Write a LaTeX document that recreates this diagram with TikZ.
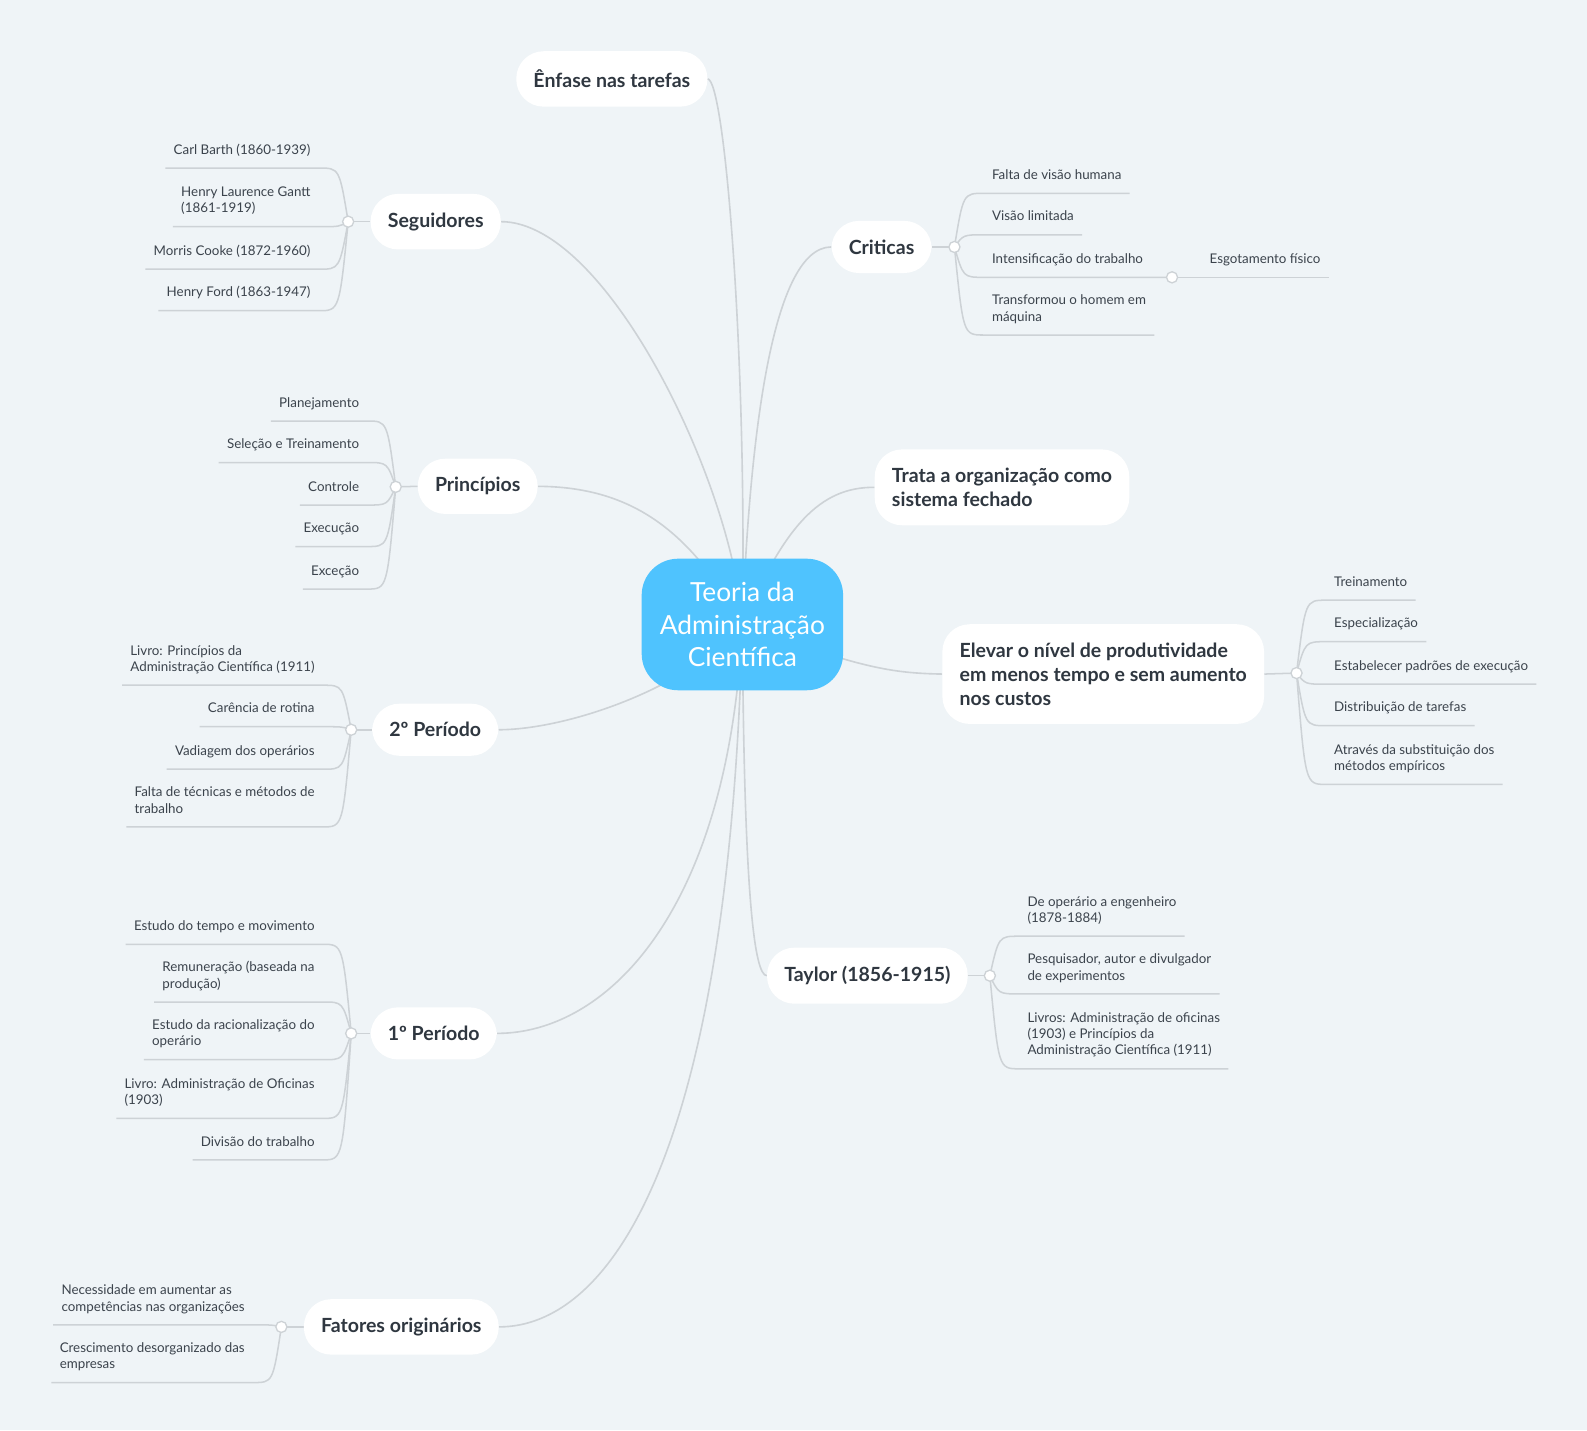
\documentclass[tikz,border=0pt]{standalone}
\usepackage{fontspec}
\setmainfont{Lato}
\usetikzlibrary{calc}
\definecolor{bgcol}{HTML}{EFF4F7}
\definecolor{linecol}{HTML}{CDD2D6}
\definecolor{centercol}{HTML}{4FC3FE}
\definecolor{topiccol}{HTML}{2F3740}
\definecolor{leafcol}{HTML}{3B434C}
\pgfdeclarelayer{bg}
\pgfdeclarelayer{lines}
\pgfsetlayers{bg,lines,main}
\tikzset{branch/.style={to path={.. controls ($(\tikztostart |- \tikztotarget)!0.3!(\tikztotarget)$) .. (\tikztotarget)}}}

\begin{document}
\begin{tikzpicture}[x=1pt,y=1pt,
    center node/.style={rounded corners=36pt,fill=centercol,text=white,align=center,
      minimum width=199pt,minimum height=130pt,font=\fontsize{26}{32}\selectfont},
    topic/.style={rounded corners=27pt,fill=white,text=topiccol,align=left,
      inner xsep=17pt,inner ysep=18.5pt,font=\fontsize{19.3}{23.5}\selectfont\bfseries},
    leaf/.style={text=leafcol,align=left,inner xsep=8pt,inner ysep=8.7pt,
      execute at end node={\strut},font=\fontsize{13.2}{16}\selectfont},
    joint/.style={circle,draw=linecol,line width=1.3pt,fill=white,minimum size=11pt,inner sep=0pt},
    mainline/.style={draw=linecol,line width=1.6pt},
    leafline/.style={draw=linecol,line width=1.5pt}]
\begin{pgfonlayer}{bg}
\fill[bgcol] (0,0) rectangle (1568,-1413);
\end{pgfonlayer}
\useasboundingbox (0,0) rectangle (1568,-1413);

% centre and main topics
\node[center node] (cn) at (733.5,-617) {Teoria da\\Administração\\Científica};
\node[topic] (enf) at (604.5,-78) {Ênfase nas tarefas};
\node[topic] (seg) at (430.5,-219) {Seguidores};
\node[topic] (crit) at (871,-244) {Criticas};
\node[topic] (prin) at (472,-480.5) {Princípios};
\node[topic] (trata) at (990,-481.5) {Trata a organização como\\sistema fechado};
\node[topic] (elev) at (1090,-666) {Elevar o nível de produtividade\\em menos tempo e sem aumento\\nos custos};
\node[topic] (per2) at (430,-721) {2º Período};
\node[topic] (tay) at (857,-964) {Taylor (1856-1915)};
\node[topic] (per1) at (428.5,-1021) {1º Período};
\node[topic] (fat) at (396.5,-1311) {Fatores originários};

% joints
\node[joint] (jseg) at (344,-219) {};
\node[joint] (jcrit) at (943,-244) {};
\node[joint] (jint) at (1158,-274) {};
\node[joint] (jprin) at (391,-481) {};
\node[joint] (jelev) at (1281,-665) {};
\node[joint] (jper2) at (347,-721) {};
\node[joint] (jtay) at (978,-964) {};
\node[joint] (jper1) at (347,-1021) {};
\node[joint] (jfat) at (278,-1311) {};

% Seguidores
\node[leaf,anchor=south east] (s1) at (315,-166) {Carl Barth (1860-1939)};
\node[leaf,anchor=south east] (s2) at (315,-224) {Henry Laurence Gantt\\(1861-1919)};
\node[leaf,anchor=south east] (s3) at (315,-266) {Morris Cooke (1872-1960)};
\node[leaf,anchor=south east] (s4) at (315,-307) {Henry Ford (1863-1947)};

% Criticas
\node[leaf,anchor=south west] (c1) at (972,-191) {Falta de visão humana};
\node[leaf,anchor=south west] (c2) at (972,-232) {Visão limitada};
\node[leaf,anchor=south west] (c3) at (972,-274) {Intensificação do trabalho};
\node[leaf,anchor=south west] (c4) at (972,-331) {Transformou o homem em\\máquina};
\node[leaf,anchor=south west] (c5) at (1187,-274) {Esgotamento físico};

% Principios
\node[leaf,anchor=south east] (p1) at (363,-416) {Planejamento};
\node[leaf,anchor=south east] (p2) at (363,-457) {Seleção e Treinamento};
\node[leaf,anchor=south east] (p3) at (363,-499) {Controle};
\node[leaf,anchor=south east] (p4) at (363,-540) {Execução};
\node[leaf,anchor=south east] (p5) at (363,-582) {Exceção};

% Elevar
\node[leaf,anchor=south west] (e1) at (1310,-593) {Treinamento};
\node[leaf,anchor=south west] (e2) at (1310,-634) {Especialização};
\node[leaf,anchor=south west] (e3) at (1310,-676) {Estabelecer padrões de execução};
\node[leaf,anchor=south west] (e4) at (1310,-717) {Distribuição de tarefas};
\node[leaf,anchor=south west] (e5) at (1310,-775) {Através da substituição dos\\métodos empíricos};

% 2o periodo
\node[leaf,anchor=south east] (q1) at (319,-677) {Livro: Princípios da\\Administração Científica (1911)};
\node[leaf,anchor=south east] (q2) at (319,-718) {Carência de rotina};
\node[leaf,anchor=south east] (q3) at (319,-760) {Vadiagem dos operários};
\node[leaf,anchor=south east] (q4) at (319,-817) {Falta de técnicas e métodos de\\trabalho};

% Taylor
\node[leaf,anchor=south west] (t1) at (1007,-925) {De operário a engenheiro\\(1878-1884)};
\node[leaf,anchor=south west] (t2) at (1007,-982) {Pesquisador, autor e divulgador\\de experimentos};
\node[leaf,anchor=south west] (t3) at (1007,-1056) {Livros: Administração de oficinas\\(1903) e Princípios da\\Administração Científica (1911)};

% 1o periodo
\node[leaf,anchor=south east] (r1) at (319,-933) {Estudo do tempo e movimento};
\node[leaf,anchor=south east] (r2) at (319,-990) {Remuneração (baseada na\\produção)};
\node[leaf,anchor=south east] (r3) at (319,-1047) {Estudo da racionalização do\\operário};
\node[leaf,anchor=south east] (r4) at (319,-1105) {Livro: Administração de Oficinas\\(1903)};
\node[leaf,anchor=south east] (r5) at (319,-1146) {Divisão do trabalho};

% Fatores
\node[leaf,anchor=south east] (f1) at (250,-1309) {Necessidade em aumentar as\\competências nas organizações};
\node[leaf,anchor=south east] (f2) at (250,-1366) {Crescimento desorganizado das\\empresas};

\begin{pgfonlayer}{lines}
% from the centre
\draw[mainline] (cn.center) .. controls (738,-350) and (716,-78) .. (enf.east);
\draw[mainline] (cn.center) .. controls (725,-480) and (600,-219) .. (seg.east);
\draw[mainline] (cn.center) .. controls (740,-450) and (760,-244) .. (crit.west);
\draw[mainline] (cn.center) .. controls (680,-520) and (620,-481) .. (prin.east);
\draw[mainline] (cn.center) .. controls (775,-520) and (810,-481) .. (trata.west);
\draw[mainline] (cn.center) .. controls (850,-660) and (880,-665) .. (elev.west);
\draw[mainline] (cn.center) .. controls (680,-680) and (560,-721) .. (per2.east);
\draw[mainline] (cn.center) .. controls (735,-880) and (745,-964) .. (tay.west);
\draw[mainline] (cn.center) .. controls (720,-900) and (600,-1021) .. (per1.east);
\draw[mainline] (cn.center) .. controls (720,-1150) and (600,-1311) .. (fat.east);

% stubs to the joints
\path[leafline]
  (seg.west) edge (jseg.center)
  (crit.east) edge (jcrit.center)
  (prin.west) edge (jprin.center)
  (elev.east) edge (jelev.center)
  (per2.west) edge (jper2.center)
  (tay.east) edge (jtay.center)
  (per1.west) edge (jper1.center)
  (fat.west) edge (jfat.center);

% branches with underlines
\draw[leafline] (jseg.center) to[branch] (s1.south east) -- (s1.south west);
\draw[leafline] (jseg.center) to[branch] (s2.south east) -- (s2.south west);
\draw[leafline] (jseg.center) to[branch] (s3.south east) -- (s3.south west);
\draw[leafline] (jseg.center) to[branch] (s4.south east) -- (s4.south west);

\draw[leafline] (jcrit.center) to[branch] (c1.south west) -- (c1.south east);
\draw[leafline] (jcrit.center) to[branch] (c2.south west) -- (c2.south east);
\draw[leafline] (jcrit.center) to[branch] (c3.south west) -- (jint.center);
\draw[leafline] (jcrit.center) to[branch] (c4.south west) -- (c4.south east);
\draw[leafline] (jint.center) -- (c5.south west) -- (c5.south east);

\draw[leafline] (jprin.center) to[branch] (p1.south east) -- (p1.south west);
\draw[leafline] (jprin.center) to[branch] (p2.south east) -- (p2.south west);
\draw[leafline] (jprin.center) to[branch] (p3.south east) -- (p3.south west);
\draw[leafline] (jprin.center) to[branch] (p4.south east) -- (p4.south west);
\draw[leafline] (jprin.center) to[branch] (p5.south east) -- (p5.south west);

\draw[leafline] (jelev.center) to[branch] (e1.south west) -- (e1.south east);
\draw[leafline] (jelev.center) to[branch] (e2.south west) -- (e2.south east);
\draw[leafline] (jelev.center) to[branch] (e3.south west) -- (e3.south east);
\draw[leafline] (jelev.center) to[branch] (e4.south west) -- (e4.south east);
\draw[leafline] (jelev.center) to[branch] (e5.south west) -- (e5.south east);

\draw[leafline] (jper2.center) to[branch] (q1.south east) -- (q1.south west);
\draw[leafline] (jper2.center) to[branch] (q2.south east) -- (q2.south west);
\draw[leafline] (jper2.center) to[branch] (q3.south east) -- (q3.south west);
\draw[leafline] (jper2.center) to[branch] (q4.south east) -- (q4.south west);

\draw[leafline] (jtay.center) to[branch] (t1.south west) -- (t1.south east);
\draw[leafline] (jtay.center) to[branch] (t2.south west) -- (t2.south east);
\draw[leafline] (jtay.center) to[branch] (t3.south west) -- (t3.south east);

\draw[leafline] (jper1.center) to[branch] (r1.south east) -- (r1.south west);
\draw[leafline] (jper1.center) to[branch] (r2.south east) -- (r2.south west);
\draw[leafline] (jper1.center) to[branch] (r3.south east) -- (r3.south west);
\draw[leafline] (jper1.center) to[branch] (r4.south east) -- (r4.south west);
\draw[leafline] (jper1.center) to[branch] (r5.south east) -- (r5.south west);

\draw[leafline] (jfat.center) to[branch] (f1.south east) -- (f1.south west);
\draw[leafline] (jfat.center) to[branch] (f2.south east) -- (f2.south west);
\end{pgfonlayer}
\end{tikzpicture}
\end{document}
